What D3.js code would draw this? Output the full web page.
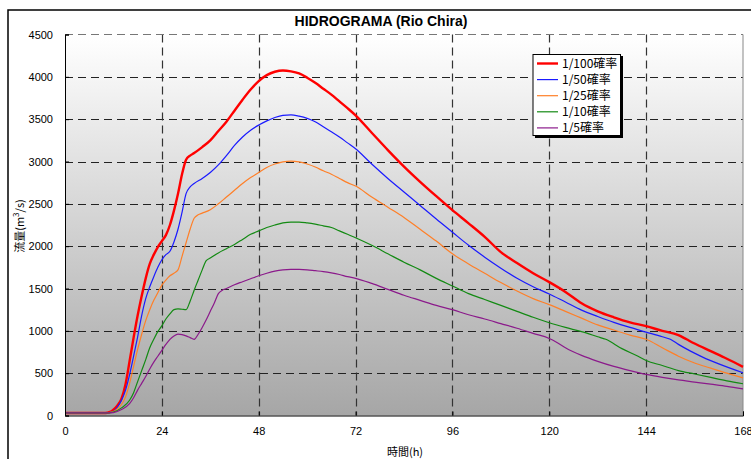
<!DOCTYPE html>
<html><head><meta charset="utf-8">
<script src="https://cdn.jsdelivr.net/npm/d3@7"></script>
<style>body{margin:0;background:#fff}svg{display:block}</style>
</head><body>
<svg id="chart" width="751" height="459"></svg>
<script>
const chartTitle = "HIDROGRAMA (Rio Chira)";
const xLabel = "時間(h)";
const xTicks = [0, 24, 48, 72, 96, 120, 144, 168];
const yTicks = [0, 500, 1000, 1500, 2000, 2500, 3000, 3500, 4000, 4500];
const seriesNames = ["1/100確率", "1/50確率", "1/25確率", "1/10確率", "1/5確率"];
const seriesColors = ["#ff0000", "#1a1aff", "#ff7f27", "#138a13", "#8b1a8b"];
const seriesWidths = [2.4, 1.2, 1.2, 1.2, 1.2];

const h100 = [0,10,11,12,13,14,15,16,17,18,19,20,21,22,23,24,25,26,27,28,29,30,31,32,34,36,38,40,42,44,46,48,50,52,54,56,58,60,62,64,66,68,70,72,76,80,84,88,92,96,100,104,108,112,116,120,124,128,132,136,140,144,148,152,154,156,160,164,168];
const q100 = [30,30,40,70,120,200,370,640,920,1180,1410,1620,1790,1900,1990,2060,2130,2250,2420,2620,2850,3020,3070,3100,3170,3250,3360,3470,3600,3730,3850,3950,4020,4060,4075,4065,4040,3990,3930,3860,3790,3710,3630,3545,3340,3135,2940,2760,2590,2425,2270,2110,1930,1800,1680,1575,1460,1325,1230,1160,1100,1055,1000,950,900,850,760,670,575];

const h50 = [0,10,12,13,14,15,16,17,18,19,20,21,22,23,24,25,26,27,28,29,30,31,32,34,36,38,40,42,44,46,48,50,52,54,56,58,60,62,64,66,68,70,72,76,80,84,88,92,96,100,104,108,112,116,120,124,128,132,136,140,144,148,150,152,155,158,162,168];
const q50 = [30,30,50,100,180,300,480,700,930,1180,1380,1520,1640,1750,1840,1900,1940,2050,2200,2400,2620,2700,2740,2800,2870,2960,3070,3190,3290,3370,3430,3480,3520,3545,3550,3535,3510,3470,3410,3350,3290,3220,3150,2970,2800,2640,2480,2320,2165,2010,1870,1740,1620,1520,1435,1340,1245,1170,1100,1040,985,930,900,840,760,690,610,505];

const h25 = [0,10,12,13,14,15,16,17,18,19,20,21,22,23,24,25,26,27,28,29,30,31,32,33,34,36,38,40,42,44,46,48,50,52,54,56,58,60,62,64,66,68,70,72,76,80,84,88,92,96,100,104,108,112,116,120,124,128,132,136,140,144,148,152,156,160,164,168];
const q25 = [30,30,45,80,130,220,380,580,780,960,1120,1250,1360,1450,1540,1600,1650,1680,1720,1880,2040,2200,2330,2370,2390,2430,2500,2580,2660,2740,2810,2870,2930,2970,2995,3005,2995,2970,2935,2890,2850,2800,2750,2710,2580,2460,2340,2200,2060,1910,1790,1680,1570,1470,1380,1310,1230,1150,1070,1010,950,900,800,700,620,560,500,445];

const h10 = [0,10,12,14,16,17,18,19,20,21,22,23,24,25,26,27,28,29,30,31,32,33,34,35,36,38,40,42,44,46,48,50,52,54,56,58,60,62,64,66,68,70,72,76,80,84,88,92,96,100,104,108,112,116,120,124,128,132,134,138,142,144,148,152,156,160,164,168];
const q10 = [30,30,40,90,180,270,400,530,660,800,900,990,1060,1140,1200,1250,1260,1255,1250,1350,1480,1600,1720,1830,1860,1920,1970,2020,2080,2140,2180,2220,2250,2275,2285,2285,2275,2260,2240,2220,2180,2140,2100,2010,1910,1810,1720,1620,1530,1440,1370,1300,1230,1160,1095,1040,990,930,900,790,700,650,590,530,490,450,410,375];

const h5 = [0,10,12,14,16,17,18,19,20,21,22,23,24,25,26,27,28,29,30,31,32,33,34,35,36,37,38,39,40,42,44,46,48,50,52,54,56,58,60,62,64,66,68,70,72,76,80,84,88,92,96,100,104,108,112,116,120,122,124,128,132,136,140,144,148,152,156,160,164,168];
const q5 = [30,30,35,70,140,210,300,380,460,550,630,700,770,840,900,940,960,955,940,920,900,960,1040,1130,1230,1330,1440,1480,1500,1545,1580,1615,1650,1680,1705,1720,1725,1725,1720,1710,1700,1685,1665,1640,1620,1560,1490,1420,1360,1300,1250,1190,1140,1085,1030,970,910,860,800,710,640,580,530,485,450,420,395,370,345,315];

const seriesHours = [h100, h50, h25, h10, h5];
const seriesValues = [q100, q50, q25, q10, q5];

const svg = d3.select("#chart");
const L = 65, R = 743, T = 34.5, B = 415.5;
const x = d3.scaleLinear().domain([0, 168]).range([L, R]);
const y = d3.scaleLinear().domain([0, 4500]).range([B, T]);

// outer chart border
svg.append("rect").attr("x", 8).attr("y", 10).attr("width", 800).attr("height", 500)
  .attr("fill", "#fff").attr("stroke", "#000").attr("stroke-width", 1.5);

// gradient background
const defs = svg.append("defs");
const grad = defs.append("linearGradient").attr("id", "bg").attr("x1", 0).attr("y1", 0).attr("x2", 0).attr("y2", 1);
grad.append("stop").attr("offset", "0%").attr("stop-color", "#ffffff");
grad.append("stop").attr("offset", "100%").attr("stop-color", "#a6a6a6");
svg.append("rect").attr("x", L).attr("y", T).attr("width", R - L).attr("height", B - T).attr("fill", "url(#bg)");

// grid
const grid = svg.append("g");
grid.selectAll("line.h").data(yTicks.filter(d => d > 0 && d < 4500)).join("line")
  .attr("x1", L).attr("x2", R).attr("y1", d => Math.round(y(d)) + 0.5).attr("y2", d => Math.round(y(d)) + 0.5)
  .attr("stroke", "#222").attr("stroke-dasharray", "8,5").attr("stroke-width", 1);
grid.selectAll("line.v").data(xTicks.filter(d => d > 0 && d < 168)).join("line")
  .attr("y1", T).attr("y2", B).attr("x1", d => Math.round(x(d)) + 0.5).attr("x2", d => Math.round(x(d)) + 0.5)
  .attr("stroke", "#333").attr("stroke-dasharray", "8,5").attr("stroke-width", 1.2);
// top dashed border and right solid border
svg.append("line").attr("x1", L).attr("x2", R).attr("y1", T).attr("y2", T)
  .attr("stroke", "#777").attr("stroke-dasharray", "8,5");
svg.append("line").attr("x1", R).attr("x2", R).attr("y1", T).attr("y2", B).attr("stroke", "#888");

// series
const line = d3.line().curve(d3.curveMonotoneX);
seriesNames.forEach((n, i) => {
  const pts = seriesHours[i].map((h, j) => [x(h), y(seriesValues[i][j])]);
  svg.append("path").attr("d", line(pts)).attr("fill", "none")
    .attr("stroke", seriesColors[i]).attr("stroke-width", seriesWidths[i]).attr("stroke-linejoin", "round");
});

// axes
const font = "'Liberation Sans', Arial, sans-serif";
const yAxis = svg.append("g").attr("transform", `translate(${L},0)`)
  .call(d3.axisLeft(y).tickValues(yTicks).tickSize(-4).tickPadding(12).tickFormat(d3.format("d")));
yAxis.select(".domain").attr("stroke", "#000");
yAxis.selectAll(".tick line").attr("stroke", "#000");
yAxis.selectAll("text").attr("font-family", font).attr("font-size", 11).attr("fill", "#000");

const xAxis = svg.append("g").attr("transform", `translate(0,${B})`)
  .call(d3.axisBottom(x).tickValues(xTicks).tickSize(-4).tickPadding(12).tickFormat(d3.format("d")));
xAxis.select(".domain").attr("stroke", "#000");
xAxis.selectAll(".tick line").attr("stroke", "#000");
xAxis.selectAll("text").attr("font-family", font).attr("font-size", 11).attr("fill", "#000");

// title
svg.append("text").attr("x", 381).attr("y", 26).attr("text-anchor", "middle")
  .attr("font-family", font).attr("font-weight", "bold").attr("font-size", 14).text(chartTitle);

// x label
svg.append("text").attr("x", 405).attr("y", 456).attr("text-anchor", "middle")
  .attr("font-family", "'Noto Sans CJK JP', sans-serif").attr("font-size", 11).text(xLabel);

// y label
const yl = svg.append("text").attr("transform", "translate(24,226) rotate(-90)").attr("text-anchor", "middle")
  .attr("font-family", "'Noto Sans CJK JP', sans-serif").attr("font-size", 11);
yl.append("tspan").text("流量(m");
yl.append("tspan").attr("dy", -5).attr("font-size", 8).text("3");
yl.append("tspan").attr("dy", 5).text("/s)");

// legend
const lg = svg.append("g");
lg.append("rect").attr("x", 535).attr("y", 56).attr("width", 88).attr("height", 82).attr("fill", "#000");
lg.append("rect").attr("x", 533).attr("y", 54.5).attr("width", 87.5).attr("height", 81).attr("fill", "#fff").attr("stroke", "#000");
seriesNames.forEach((n, i) => {
  const yy = 63.5 + i * 16.1;
  lg.append("line").attr("x1", 537).attr("x2", 558).attr("y1", yy).attr("y2", yy)
    .attr("stroke", seriesColors[i]).attr("stroke-width", i === 0 ? 2.4 : 1.2);
  lg.append("text").attr("x", 562).attr("y", yy + 4.5).attr("font-family", "'Noto Sans CJK JP', sans-serif")
    .attr("font-size", 12).text(n);
});
</script>
</body></html>
